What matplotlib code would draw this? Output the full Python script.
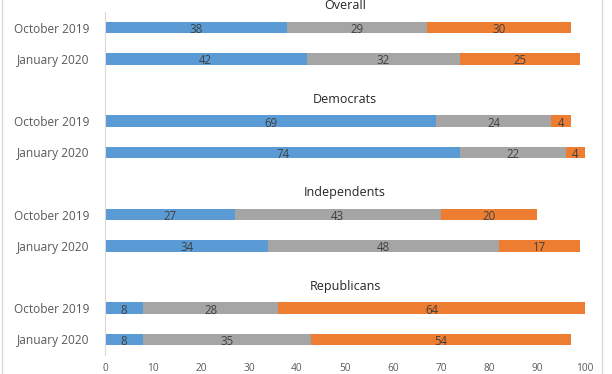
import matplotlib.pyplot as plt
import numpy as np

plt.rcParams['font.family'] = ['Open Sans', 'DejaVu Sans']

groups = ['Overall', 'Democrats', 'Independents', 'Republicans']
waves = ['October 2019', 'January 2020']

# three response shares per bar, listed group by group (Oct, Jan)
blue_vals = [38, 42, 69, 74, 27, 34, 8, 8]
gray_vals = [29, 32, 24, 22, 43, 48, 28, 35]
orange_vals = [30, 25, 4, 4, 20, 17, 64, 54]

xticks = list(range(0, 101, 10))

blue = '#5b9bd5'
gray = '#a5a5a5'
orange = '#ed7d31'

# each group takes 3 slots: title row then two bars
ypos = []
ylabels = []
title_pos = []
for g in range(len(groups)):
    title_pos.append(g * 3)
    for w in range(len(waves)):
        ypos.append(g * 3 + 1 + w)
        ylabels.append(waves[w])
ypos = np.array(ypos)

fig = plt.figure(figsize=(6.12, 3.74), dpi=100)
ax = fig.add_axes([105 / 612, 1 - 355 / 374, 480 / 612, 343 / 374])

b = np.array(blue_vals)
g_ = np.array(gray_vals)
o = np.array(orange_vals)
h = 0.37
ax.barh(ypos, b, height=h, color=blue)
ax.barh(ypos, g_, left=b, height=h, color=gray)
ax.barh(ypos, o, left=b + g_, height=h, color=orange)

for y, v1, v2, v3 in zip(ypos, b, g_, o):
    for left, val in [(0, v1), (v1, v2), (v1 + v2, v3)]:
        ax.text(left + val / 2, y + 0.06, str(val), ha='center', va='center',
                fontsize=8.3, color='#404040')

for t, name in zip(title_pos, groups):
    ax.text(50, t + 0.3, name, ha='center', va='center', fontsize=9,
            color='#262626', clip_on=False)

ax.set_xlim(0, 100)
ax.set_ylim(11.5, 0.5)
ax.set_xticks(xticks)
ax.set_xticklabels([str(x) for x in xticks], fontsize=7.3, color='#595959')
ax.set_yticks(ypos)
ax.set_yticklabels(ylabels, fontsize=8.6, color='#595959')
ax.tick_params(length=0, pad=6)
ax.tick_params(axis='y', pad=11)
for s in ['top', 'right', 'bottom']:
    ax.spines[s].set_visible(False)
ax.spines['left'].set_color('#d9d9d9')

# chart frame lines
fig.add_artist(plt.Line2D([1.5 / 612, 1.5 / 612], [0, 1], color='#d9d9d9', lw=1))
fig.add_artist(plt.Line2D([602 / 612, 602 / 612], [0, 1], color='#d9d9d9', lw=1))

fig.savefig('out.png', dpi=100)
